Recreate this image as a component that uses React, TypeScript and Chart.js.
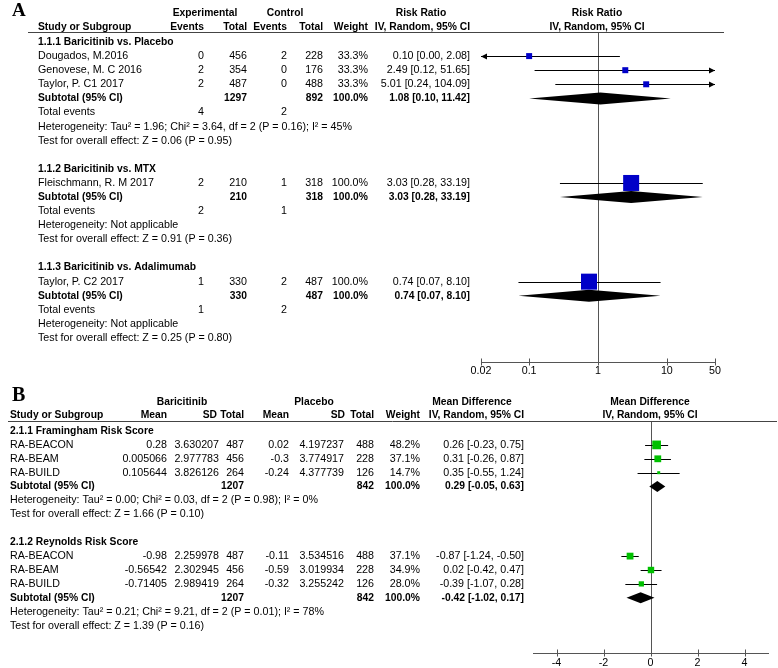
import React, { useEffect, useRef } from 'react';
import { Chart, registerables } from 'chart.js';

Chart.register(...registerables);

// ================= Panel A data (Risk Ratio) =================
const groupsA = ['1.1.1 Baricitinib vs. Placebo', '1.1.2 Baricitinib vs. MTX', '1.1.3 Baricitinib vs. Adalimumab'];
const studiesA = ['Dougados, M.2016', 'Genovese, M. C 2016', 'Taylor, P. C1 2017', 'Fleischmann, R. M 2017', 'Taylor, P. C2 2017'];
const studyGroupA = [0, 0, 0, 1, 2];
const expEventsA = [0, 2, 2, 2, 1];
const expTotalA = [456, 354, 487, 210, 330];
const ctlEventsA = [2, 0, 0, 1, 2];
const ctlTotalA = [228, 176, 488, 318, 487];
const weightA = [33.3, 33.3, 33.3, 100.0, 100.0];
const rrA = [0.10, 2.49, 5.01, 3.03, 0.74];
const rrLowA = [0.00, 0.12, 0.24, 0.28, 0.07];
const rrHighA = [2.08, 51.65, 104.09, 33.19, 8.10];
const subExpEventsA = [4, 2, 1];
const subCtlEventsA = [2, 1, 2];
const subExpTotalA = [1297, 210, 330];
const subCtlTotalA = [892, 318, 487];
const subRrA = [1.08, 3.03, 0.74];
const subLowA = [0.10, 0.28, 0.07];
const subHighA = [11.42, 33.19, 8.10];
const heterogeneityA = [
  'Heterogeneity: Tau\u00B2 = 1.96; Chi\u00B2 = 3.64, df = 2 (P = 0.16); I\u00B2 = 45%',
  'Heterogeneity: Not applicable',
  'Heterogeneity: Not applicable',
];
const overallA = [
  'Test for overall effect: Z = 0.06 (P = 0.95)',
  'Test for overall effect: Z = 0.91 (P = 0.36)',
  'Test for overall effect: Z = 0.25 (P = 0.80)',
];
const ticksA = [0.02, 0.1, 1, 10, 50];

// ================= Panel B data (Mean Difference) =================
const groupsB = ['2.1.1 Framingham Risk Score', '2.1.2 Reynolds Risk Score'];
const studiesB = ['RA-BEACON', 'RA-BEAM', 'RA-BUILD', 'RA-BEACON', 'RA-BEAM', 'RA-BUILD'];
const studyGroupB = [0, 0, 0, 1, 1, 1];
const bariMeanB = [0.28, 0.005066, 0.105644, -0.98, -0.56542, -0.71405];
const bariSdB = [3.630207, 2.977783, 3.826126, 2.259978, 2.302945, 2.989419];
const bariTotalB = [487, 456, 264, 487, 456, 264];
const placMeanB = [0.02, -0.3, -0.24, -0.11, -0.59, -0.32];
const placSdB = [4.197237, 3.774917, 4.377739, 3.534516, 3.019934, 3.255242];
const placTotalB = [488, 228, 126, 488, 228, 126];
const weightB = [48.2, 37.1, 14.7, 37.1, 34.9, 28.0];
const mdB = [0.26, 0.31, 0.35, -0.87, 0.02, -0.39];
const mdLowB = [-0.23, -0.26, -0.55, -1.24, -0.42, -1.07];
const mdHighB = [0.75, 0.87, 1.24, -0.50, 0.47, 0.28];
const subBariTotalB = [1207, 1207];
const subPlacTotalB = [842, 842];
const subMdB = [0.29, -0.42];
const subLowB = [-0.05, -1.02];
const subHighB = [0.63, 0.17];
const heterogeneityB = [
  'Heterogeneity: Tau\u00B2 = 0.00; Chi\u00B2 = 0.03, df = 2 (P = 0.98); I\u00B2 = 0%',
  'Heterogeneity: Tau\u00B2 = 0.21; Chi\u00B2 = 9.21, df = 2 (P = 0.01); I\u00B2 = 78%',
];
const overallB = [
  'Test for overall effect: Z = 1.66 (P = 0.10)',
  'Test for overall effect: Z = 1.39 (P = 0.16)',
];
const ticksB = [-4, -2, 0, 2, 4];

// ================= Layout / style =================
const FAMILY = '"Liberation Sans", Arial, Helvetica, sans-serif';
const FS = 10.7;
const FS_BOLD = 10.3;
const W = 778;

type Align = 'left' | 'right' | 'center';
interface TextItem { text: string; row: number; x: number; align: Align; bold?: boolean; }
interface Interval { est: number; low: number; high: number; row: number; }

const fmt2 = (v: number) => v.toFixed(2);
const ciText = (e: number, l: number, h: number) => `${fmt2(e)} [${fmt2(l)}, ${fmt2(h)}]`;

const COL_A = { study: 38, expEvents: 204, expTotal: 247, ctlEvents: 287, ctlTotal: 323, weight: 368, est: 470 };
const COL_B = { study: 10, bMean: 167, bSd: 219, bTotal: 244, pMean: 289, pSd: 344, pTotal: 374, weight: 420, est: 524 };

const HEADER_A: TextItem[] = [
  { text: 'Experimental', row: -2.06, x: 205, align: 'center', bold: true },
  { text: 'Control', row: -2.06, x: 285, align: 'center', bold: true },
  { text: 'Risk Ratio', row: -2.06, x: 421, align: 'center', bold: true },
  { text: 'Risk Ratio', row: -2.06, x: 597, align: 'center', bold: true },
  { text: 'Study or Subgroup', row: -1.06, x: COL_A.study, align: 'left', bold: true },
  { text: 'Events', row: -1.06, x: COL_A.expEvents, align: 'right', bold: true },
  { text: 'Total', row: -1.06, x: COL_A.expTotal, align: 'right', bold: true },
  { text: 'Events', row: -1.06, x: COL_A.ctlEvents, align: 'right', bold: true },
  { text: 'Total', row: -1.06, x: COL_A.ctlTotal, align: 'right', bold: true },
  { text: 'Weight', row: -1.06, x: COL_A.weight, align: 'right', bold: true },
  { text: 'IV, Random, 95% CI', row: -1.06, x: COL_A.est, align: 'right', bold: true },
  { text: 'IV, Random, 95% CI', row: -1.06, x: 597, align: 'center', bold: true },
];

const HEADER_B: TextItem[] = [
  { text: 'Baricitinib', row: -2.09, x: 182, align: 'center', bold: true },
  { text: 'Placebo', row: -2.09, x: 314, align: 'center', bold: true },
  { text: 'Mean Difference', row: -2.09, x: 472, align: 'center', bold: true },
  { text: 'Mean Difference', row: -2.09, x: 650, align: 'center', bold: true },
  { text: 'Study or Subgroup', row: -1.15, x: COL_B.study, align: 'left', bold: true },
  { text: 'Mean', row: -1.15, x: COL_B.bMean, align: 'right', bold: true },
  { text: 'SD', row: -1.15, x: COL_B.bSd - 2, align: 'right', bold: true },
  { text: 'Total', row: -1.15, x: COL_B.bTotal, align: 'right', bold: true },
  { text: 'Mean', row: -1.15, x: COL_B.pMean, align: 'right', bold: true },
  { text: 'SD', row: -1.15, x: COL_B.pSd + 1, align: 'right', bold: true },
  { text: 'Total', row: -1.15, x: COL_B.pTotal, align: 'right', bold: true },
  { text: 'Weight', row: -1.15, x: COL_B.weight, align: 'right', bold: true },
  { text: 'IV, Random, 95% CI', row: -1.15, x: COL_B.est, align: 'right', bold: true },
  { text: 'IV, Random, 95% CI', row: -1.15, x: 650, align: 'center', bold: true },
];

function buildA() {
  const texts: TextItem[] = [...HEADER_A];
  const whiskers: Interval[] = [];
  const diamonds: Interval[] = [];
  const points: { x: number; y: number }[] = [];
  const weights: number[] = [];
  let row = 0;
  groupsA.forEach((g, gi) => {
    texts.push({ text: g, row, x: COL_A.study, align: 'left', bold: true });
    row++;
    studiesA.forEach((s, i) => {
      if (studyGroupA[i] !== gi) return;
      texts.push({ text: s, row, x: COL_A.study, align: 'left' });
      texts.push({ text: String(expEventsA[i]), row, x: COL_A.expEvents, align: 'right' });
      texts.push({ text: String(expTotalA[i]), row, x: COL_A.expTotal, align: 'right' });
      texts.push({ text: String(ctlEventsA[i]), row, x: COL_A.ctlEvents, align: 'right' });
      texts.push({ text: String(ctlTotalA[i]), row, x: COL_A.ctlTotal, align: 'right' });
      texts.push({ text: weightA[i].toFixed(1) + '%', row, x: COL_A.weight, align: 'right' });
      texts.push({ text: ciText(rrA[i], rrLowA[i], rrHighA[i]), row, x: COL_A.est, align: 'right' });
      whiskers.push({ est: rrA[i], low: rrLowA[i], high: rrHighA[i], row });
      points.push({ x: rrA[i], y: row });
      weights.push(weightA[i]);
      row++;
    });
    texts.push({ text: 'Subtotal (95% CI)', row, x: COL_A.study, align: 'left', bold: true });
    texts.push({ text: String(subExpTotalA[gi]), row, x: COL_A.expTotal, align: 'right', bold: true });
    texts.push({ text: String(subCtlTotalA[gi]), row, x: COL_A.ctlTotal, align: 'right', bold: true });
    texts.push({ text: '100.0%', row, x: COL_A.weight, align: 'right', bold: true });
    texts.push({ text: ciText(subRrA[gi], subLowA[gi], subHighA[gi]), row, x: COL_A.est, align: 'right', bold: true });
    diamonds.push({ est: subRrA[gi], low: subLowA[gi], high: subHighA[gi], row });
    row++;
    texts.push({ text: 'Total events', row, x: COL_A.study, align: 'left' });
    texts.push({ text: String(subExpEventsA[gi]), row, x: COL_A.expEvents, align: 'right' });
    texts.push({ text: String(subCtlEventsA[gi]), row, x: COL_A.ctlEvents, align: 'right' });
    row++;
    texts.push({ text: heterogeneityA[gi], row, x: COL_A.study, align: 'left' });
    row++;
    texts.push({ text: overallA[gi], row, x: COL_A.study, align: 'left' });
    row++;
    row++; // blank
  });
  return { texts, whiskers, diamonds, points, weights };
}

function buildB() {
  const texts: TextItem[] = [...HEADER_B];
  const whiskers: Interval[] = [];
  const diamonds: Interval[] = [];
  const points: { x: number; y: number }[] = [];
  const weights: number[] = [];
  let row = 0;
  groupsB.forEach((g, gi) => {
    texts.push({ text: g, row, x: COL_B.study, align: 'left', bold: true });
    row++;
    studiesB.forEach((s, i) => {
      if (studyGroupB[i] !== gi) return;
      texts.push({ text: s, row, x: COL_B.study, align: 'left' });
      texts.push({ text: String(bariMeanB[i]), row, x: COL_B.bMean, align: 'right' });
      texts.push({ text: String(bariSdB[i]), row, x: COL_B.bSd, align: 'right' });
      texts.push({ text: String(bariTotalB[i]), row, x: COL_B.bTotal, align: 'right' });
      texts.push({ text: String(placMeanB[i]), row, x: COL_B.pMean, align: 'right' });
      texts.push({ text: String(placSdB[i]), row, x: COL_B.pSd, align: 'right' });
      texts.push({ text: String(placTotalB[i]), row, x: COL_B.pTotal, align: 'right' });
      texts.push({ text: weightB[i].toFixed(1) + '%', row, x: COL_B.weight, align: 'right' });
      texts.push({ text: ciText(mdB[i], mdLowB[i], mdHighB[i]), row, x: COL_B.est, align: 'right' });
      whiskers.push({ est: mdB[i], low: mdLowB[i], high: mdHighB[i], row });
      points.push({ x: mdB[i], y: row });
      weights.push(weightB[i]);
      row++;
    });
    texts.push({ text: 'Subtotal (95% CI)', row, x: COL_B.study, align: 'left', bold: true });
    texts.push({ text: String(subBariTotalB[gi]), row, x: COL_B.bTotal, align: 'right', bold: true });
    texts.push({ text: String(subPlacTotalB[gi]), row, x: COL_B.pTotal, align: 'right', bold: true });
    texts.push({ text: '100.0%', row, x: COL_B.weight, align: 'right', bold: true });
    texts.push({ text: ciText(subMdB[gi], subLowB[gi], subHighB[gi]), row, x: COL_B.est, align: 'right', bold: true });
    diamonds.push({ est: subMdB[gi], low: subLowB[gi], high: subHighB[gi], row });
    row++;
    texts.push({ text: heterogeneityB[gi], row, x: COL_B.study, align: 'left' });
    row++;
    texts.push({ text: overallB[gi], row, x: COL_B.study, align: 'left' });
    row++;
    row++; // blank
  });
  return { texts, whiskers, diamonds, points, weights };
}

interface PluginCfg {
  texts: TextItem[];
  whiskers: Interval[];
  diamonds: Interval[];
  nullValue: number;
  headerLine: [number, number];
  diamondHalf: number;
  label: { text: string; x: number; y: number; size: number };
}

function forestPlugin(cfg: PluginCfg) {
  return {
    id: 'forest',
    beforeDatasetsDraw(chart: any) {
      const { ctx, chartArea } = chart;
      const xs = chart.scales.x;
      const ys = chart.scales.y;
      ctx.save();
      // null line
      ctx.strokeStyle = '#555';
      ctx.lineWidth = 1;
      const nx = Math.round(xs.getPixelForValue(cfg.nullValue)) + 0.5;
      ctx.beginPath();
      ctx.moveTo(nx, chartArea.top);
      ctx.lineTo(nx, chartArea.bottom);
      ctx.stroke();
      // whiskers
      ctx.strokeStyle = '#000';
      ctx.fillStyle = '#000';
      cfg.whiskers.forEach((w) => {
        const y = Math.round(ys.getPixelForValue(w.row)) + 0.5;
        const leftOut = w.low <= xs.min;
        const rightOut = w.high >= xs.max;
        const x0 = leftOut ? chartArea.left : xs.getPixelForValue(w.low);
        const x1 = rightOut ? chartArea.right : xs.getPixelForValue(w.high);
        ctx.beginPath();
        ctx.moveTo(x0, y);
        ctx.lineTo(x1, y);
        ctx.stroke();
        if (leftOut) {
          ctx.beginPath();
          ctx.moveTo(x0, y);
          ctx.lineTo(x0 + 6, y - 3);
          ctx.lineTo(x0 + 6, y + 3);
          ctx.closePath();
          ctx.fill();
        }
        if (rightOut) {
          ctx.beginPath();
          ctx.moveTo(x1, y);
          ctx.lineTo(x1 - 6, y - 3);
          ctx.lineTo(x1 - 6, y + 3);
          ctx.closePath();
          ctx.fill();
        }
      });
      // diamonds
      cfg.diamonds.forEach((d) => {
        const y = ys.getPixelForValue(d.row);
        const xl = xs.getPixelForValue(d.low);
        const xe = xs.getPixelForValue(d.est);
        const xh = xs.getPixelForValue(d.high);
        ctx.beginPath();
        ctx.moveTo(xl, y);
        ctx.lineTo(xe, y - cfg.diamondHalf);
        ctx.lineTo(xh, y);
        ctx.lineTo(xe, y + cfg.diamondHalf);
        ctx.closePath();
        ctx.fill();
      });
      ctx.restore();
    },
    afterDraw(chart: any) {
      const { ctx, chartArea } = chart;
      const xs = chart.scales.x;
      const ys = chart.scales.y;
      ctx.save();
      // header rule
      ctx.strokeStyle = '#444';
      ctx.lineWidth = 1;
      const hy = Math.round(chartArea.top) + 0.5;
      ctx.beginPath();
      ctx.moveTo(cfg.headerLine[0], hy);
      ctx.lineTo(cfg.headerLine[1], hy);
      ctx.stroke();
      // tick marks crossing the axis
      ctx.strokeStyle = '#555';
      const by = chartArea.bottom;
      xs.ticks.forEach((t: any) => {
        const x = Math.round(xs.getPixelForValue(t.value)) + 0.5;
        ctx.beginPath();
        ctx.moveTo(x, by - 3.5);
        ctx.lineTo(x, by + 3.5);
        ctx.stroke();
      });
      // table text
      ctx.fillStyle = '#000';
      ctx.textBaseline = 'middle';
      cfg.texts.forEach((t) => {
        ctx.font = t.bold ? `bold ${FS_BOLD}px ${FAMILY}` : `${FS}px ${FAMILY}`;
        ctx.textAlign = t.align;
        ctx.fillText(t.text, t.x, ys.getPixelForValue(t.row));
      });
      // panel label
      ctx.font = `bold ${cfg.label.size}px "Liberation Serif", "Times New Roman", serif`;
      ctx.textAlign = 'left';
      ctx.textBaseline = 'alphabetic';
      ctx.fillText(cfg.label.text, cfg.label.x, cfg.label.y);
      ctx.restore();
    },
  };
}

function makeConfigA(): any {
  const d = buildA();
  return {
    type: 'scatter',
    data: {
      datasets: [
        {
          data: d.points,
          pointStyle: 'rect',
          pointRadius: d.weights.map((w) => (1 + (15 * w) / 100) / Math.SQRT2),
          pointHoverRadius: d.weights.map((w) => (1 + (15 * w) / 100) / Math.SQRT2),
          backgroundColor: '#0000C8',
          borderWidth: 0,
        },
      ],
    },
    options: {
      responsive: false,
      animation: false,
      events: [],
      layout: { padding: { left: 481, right: 63, top: 32, bottom: 0 } },
      plugins: { legend: { display: false }, tooltip: { enabled: false } },
      scales: {
        x: {
          type: 'logarithmic',
          min: 0.02,
          max: 50,
          position: 'bottom',
          afterBuildTicks: (s: any) => {
            s.ticks = ticksA.map((v) => ({ value: v }));
          },
          afterFit: (s: any) => {
            s.height = 18;
          },
          grid: { display: false, drawTicks: false },
          border: { display: true, color: '#555', width: 1 },
          ticks: {
            autoSkip: false,
            maxRotation: 0,
            padding: 3,
            color: '#000',
            font: { family: FAMILY, size: FS },
            callback: (v: any) => String(v),
          },
        },
        y: { type: 'linear', display: false, reverse: true, min: -0.709, max: 22.7 },
      },
    },
    plugins: [
      forestPlugin({
        texts: d.texts,
        whiskers: d.whiskers,
        diamonds: d.diamonds,
        nullValue: 1,
        headerLine: [28, 724],
        diamondHalf: 6,
        label: { text: 'A', x: 12, y: 16, size: 19 },
      }),
    ],
  };
}

function makeConfigB(): any {
  const d = buildB();
  return {
    type: 'scatter',
    data: {
      datasets: [
        {
          data: d.points,
          pointStyle: 'rect',
          pointRadius: d.weights.map((w) => (0.5 + (17 * w) / 100) / Math.SQRT2),
          pointHoverRadius: d.weights.map((w) => (0.5 + (17 * w) / 100) / Math.SQRT2),
          backgroundColor: '#00C000',
          borderWidth: 0,
        },
      ],
    },
    options: {
      responsive: false,
      animation: false,
      events: [],
      layout: { padding: { left: 533, right: 10, top: 41, bottom: 0 } },
      plugins: { legend: { display: false }, tooltip: { enabled: false } },
      scales: {
        x: {
          type: 'linear',
          min: -5,
          max: 5,
          position: 'bottom',
          afterBuildTicks: (s: any) => {
            s.ticks = ticksB.map((v) => ({ value: v }));
          },
          afterFit: (s: any) => {
            s.height = 15;
          },
          grid: { display: false, drawTicks: false },
          border: { display: true, color: '#555', width: 1 },
          ticks: {
            autoSkip: false,
            maxRotation: 0,
            padding: 3.5,
            color: '#000',
            font: { family: FAMILY, size: FS },
            callback: (v: any) => String(v),
          },
        },
        y: { type: 'linear', display: false, reverse: true, min: -0.719, max: 15.97 },
      },
    },
    plugins: [
      forestPlugin({
        texts: d.texts,
        whiskers: d.whiskers,
        diamonds: d.diamonds,
        nullValue: 0,
        headerLine: [8, 777],
        diamondHalf: 5.5,
        label: { text: 'B', x: 12, y: 21, size: 20 },
      }),
    ],
  };
}

function ForestCanvas({ top, height, make }: { top: number; height: number; make: () => any }) {
  const ref = useRef<HTMLCanvasElement>(null);
  useEffect(() => {
    if (!ref.current) return;
    const chart = new Chart(ref.current, make());
    return () => chart.destroy();
  }, [make]);
  return (
    <canvas
      ref={ref}
      width={W}
      height={height}
      style={{ position: 'absolute', left: 0, top, width: W, height, display: 'block' }}
    />
  );
}

export default function App() {
  return (
    <div style={{ position: 'absolute', left: 0, top: 0, width: W, height: 668, background: '#fff', overflow: 'hidden' }}>
      <ForestCanvas top={0} height={380} make={makeConfigA} />
      <ForestCanvas top={380} height={288} make={makeConfigB} />
    </div>
  );
}
